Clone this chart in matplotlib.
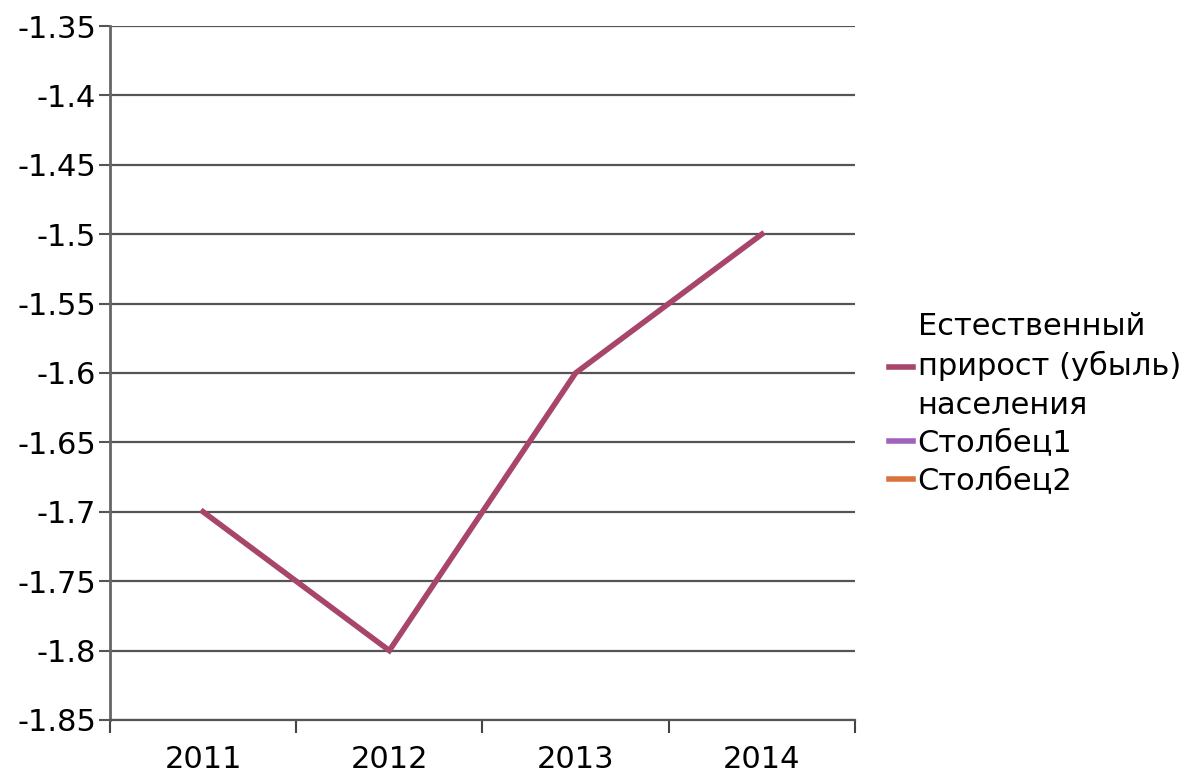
import numpy as np
import matplotlib.pyplot as plt

years = ['2011', '2012', '2013', '2014']
growth = [-1.7, -1.8, -1.6, -1.5]
col1 = [np.nan, np.nan, np.nan, np.nan]
col2 = [np.nan, np.nan, np.nan, np.nan]
yticks = [-1.85, -1.8, -1.75, -1.7, -1.65, -1.6, -1.55, -1.5, -1.45, -1.4, -1.35]
ytick_labels = ['-1.85', '-1.8', '-1.75', '-1.7', '-1.65', '-1.6', '-1.55', '-1.5', '-1.45', '-1.4', '-1.35']

plt.rcParams['font.family'] = ['DejaVu Sans']

fig = plt.figure(figsize=(12.03, 7.72), dpi=100)
ax = fig.add_axes([0.0914, 0.0674, 0.6193, 0.8989])

x = np.arange(len(years))
ax.plot(x, growth, color='#a8456b', lw=4, solid_joinstyle='miter',
        label='Естественный\nприрост (убыль)\nнаселения')
ax.plot(x, col1, color='#a062bd', lw=4, label='Столбец1')
ax.plot(x, col2, color='#d9733c', lw=4, label='Столбец2')

ax.set_xlim(-0.5, len(years) - 0.5)
ax.set_ylim(-1.85, -1.35)
ax.set_yticks(yticks)
ax.set_yticklabels(ytick_labels, fontsize=22)
ax.set_xticks(x)
ax.set_xticklabels(years, fontsize=22)
ax.set_xticks(np.arange(-0.5, len(years)), minor=True)
ax.tick_params(axis='x', which='major', length=0, pad=18)
ax.tick_params(axis='x', which='minor', length=9, width=1.5, color='#444444')
ax.tick_params(axis='y', length=8, width=1.5, color='#555555', pad=2)

ax.grid(axis='y', color='#555555', lw=1.6)
ax.set_axisbelow(True)
for s in ['top', 'right']:
    ax.spines[s].set_visible(False)
ax.spines['left'].set_color('#666666')
ax.spines['left'].set_linewidth(2)
ax.spines['bottom'].set_color('#555555')
ax.spines['bottom'].set_linewidth(1.6)

leg = ax.legend(loc='center left', bbox_to_anchor=(1.0, 0.455), frameon=False,
                fontsize=22, handlelength=0.8, handletextpad=0.15,
                labelspacing=0.3, borderaxespad=0.7)
for t in leg.get_texts():
    t.set_linespacing(1.4)

fig.savefig('out.png', dpi=100)
